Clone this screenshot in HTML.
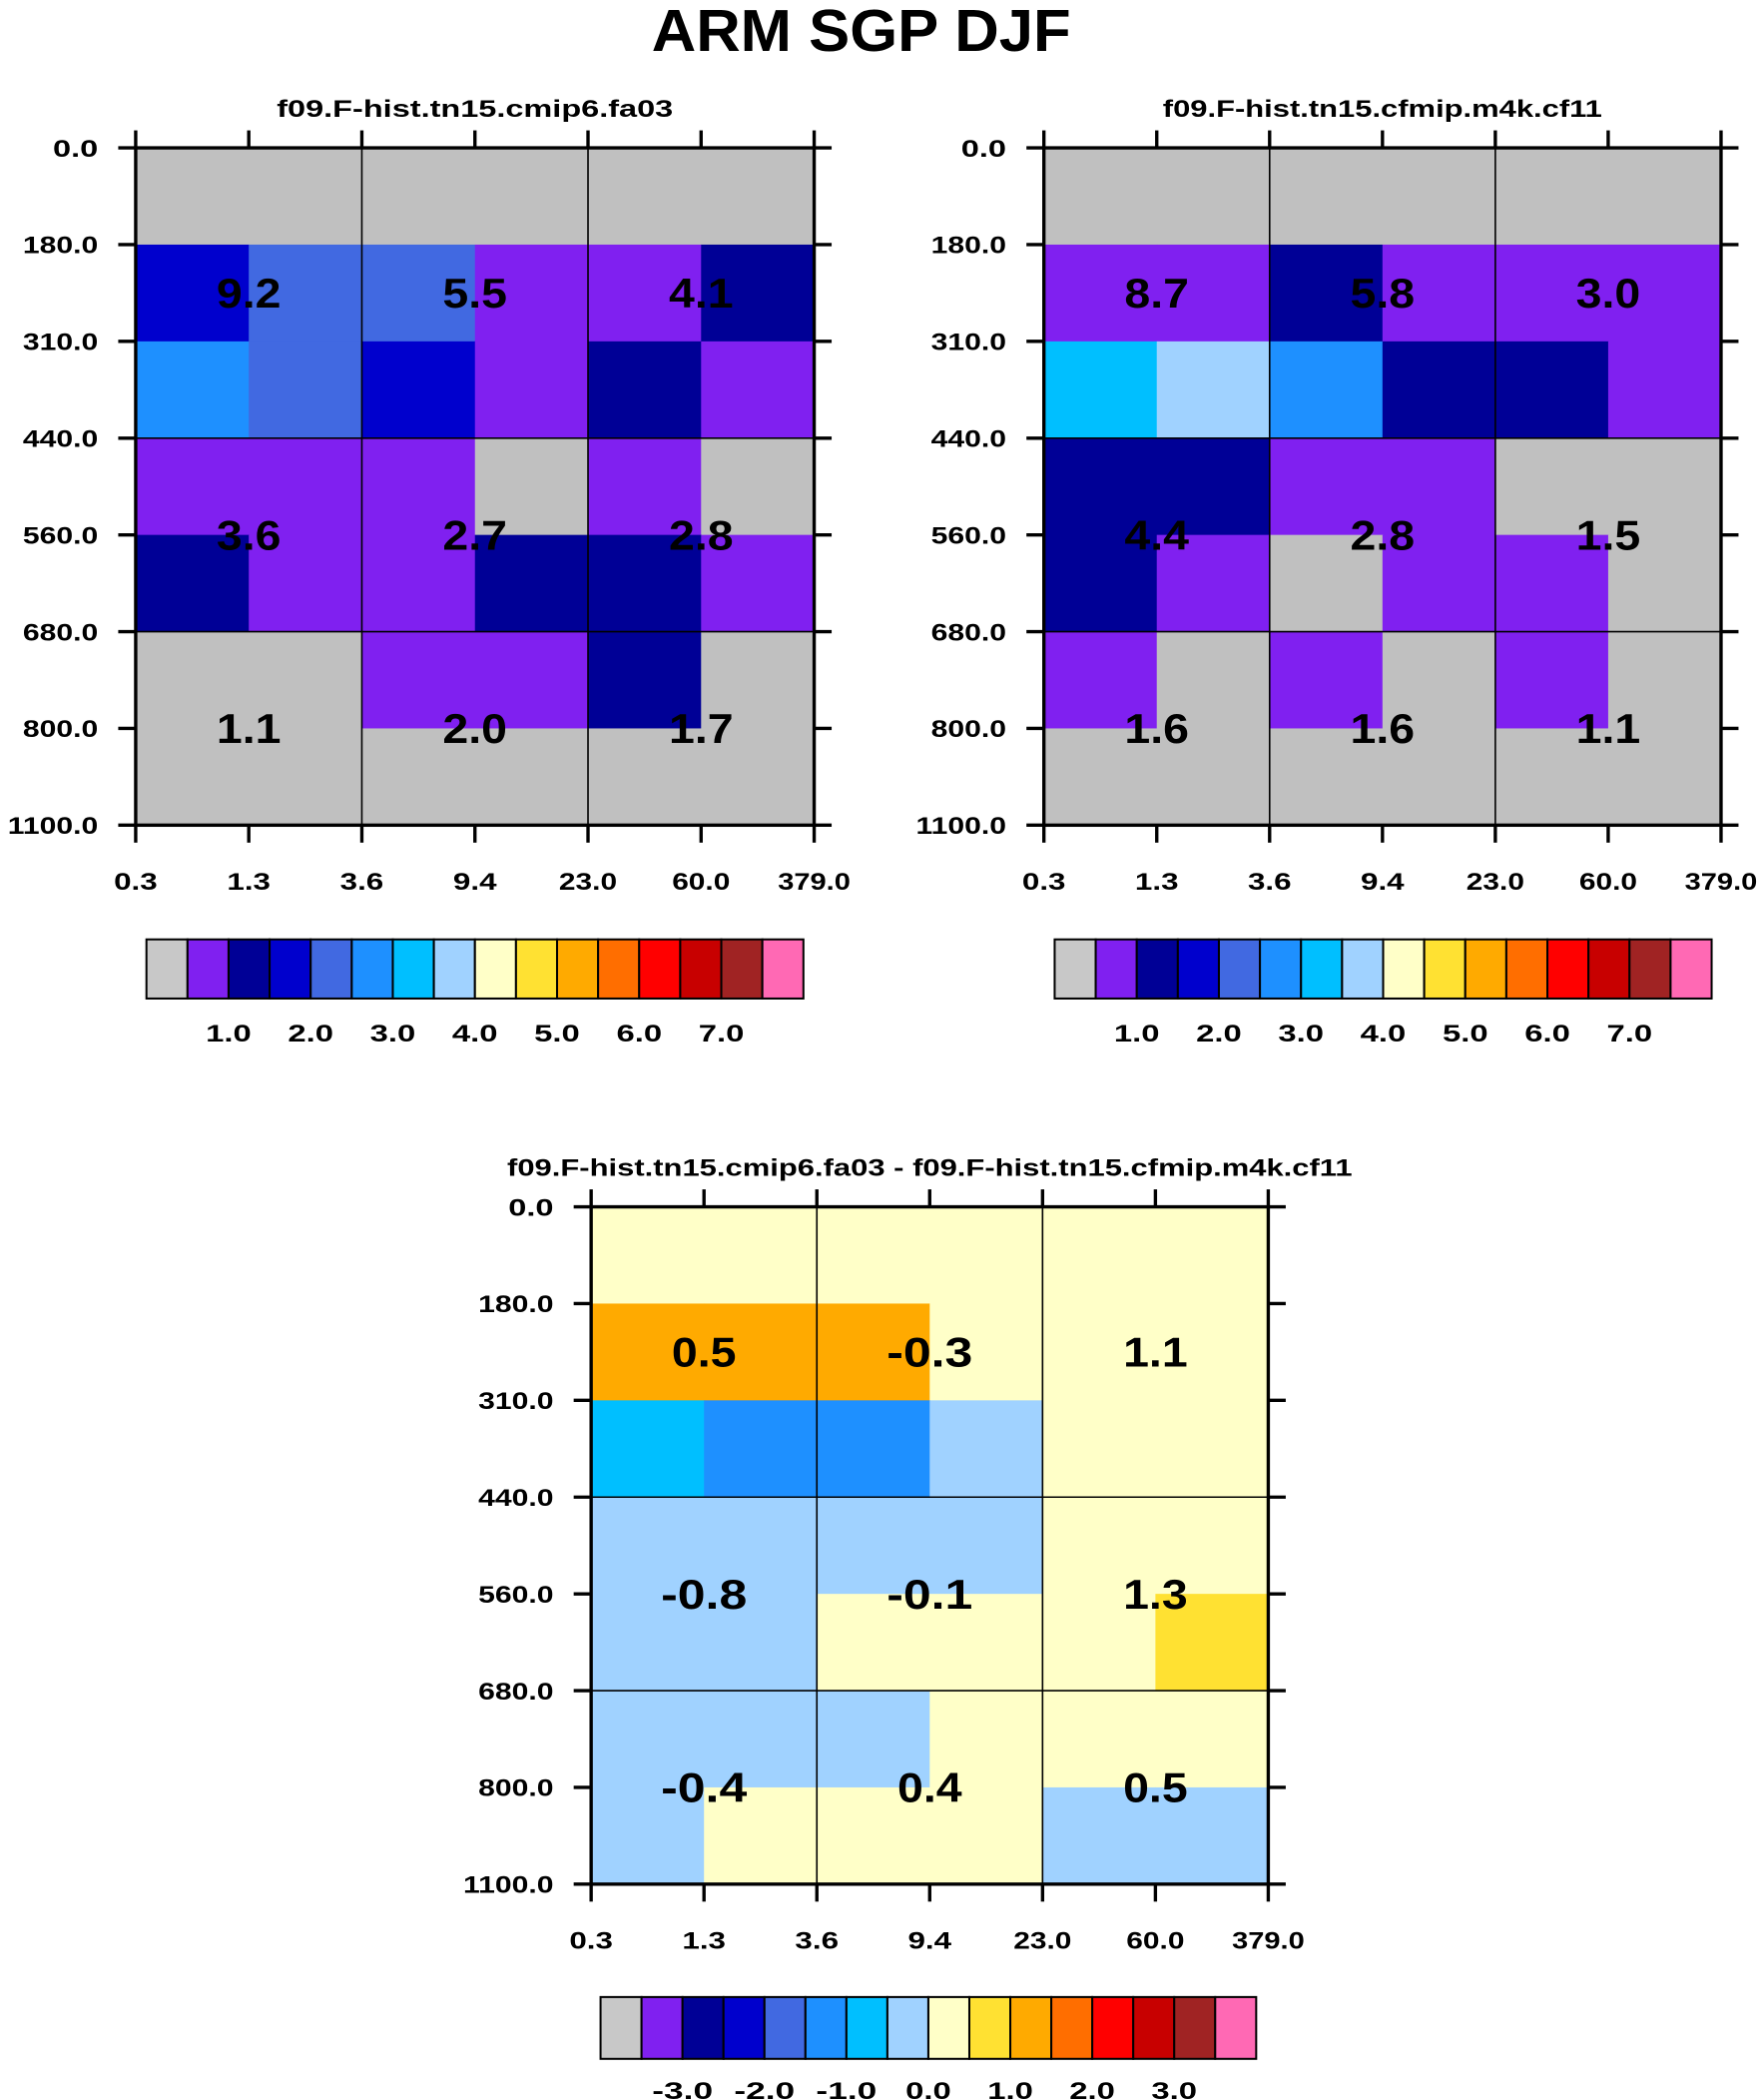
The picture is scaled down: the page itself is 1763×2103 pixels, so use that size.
<!DOCTYPE html>
<html><head><meta charset="utf-8"><style>
html,body{margin:0;padding:0;background:#fff;}
svg{display:block;font-family:"Liberation Sans",Arial,sans-serif;font-weight:bold;}
</style></head><body>
<svg id="fig" width="1763" height="2103" viewBox="0 0 1310 1562.6" xmlns="http://www.w3.org/2000/svg">
<rect width="1310" height="1562.6" fill="#fff"/>
<text x="641" y="38" font-size="44" text-anchor="middle" textLength="312" lengthAdjust="spacingAndGlyphs">ARM SGP DJF</text>
</svg>
<script>
const palette = ["#C0C0C0","#8020F0","#000096","#0000CD","#4169E1","#1E90FF","#00BFFF","#A0D2FF","#FFFFC8","#FFE132","#FFAA00","#FF6E00","#FF0000","#C80000","#A02323","#FF69B4"];
const xTickLabels = ["0.3","1.3","3.6","9.4","23.0","60.0","379.0"];
const yTickLabels = ["0.0","180.0","310.0","440.0","560.0","680.0","800.0","1100.0"];
const titles = ["f09.F-hist.tn15.cmip6.fa03","f09.F-hist.tn15.cfmip.m4k.cf11","f09.F-hist.tn15.cmip6.fa03 - f09.F-hist.tn15.cfmip.m4k.cf11"];
const grid1 = [[0,0,0,0,0,0],[3,4,4,1,1,2],[5,4,3,1,2,1],[1,1,1,0,1,0],[2,1,1,2,2,1],[0,0,1,1,2,0],[0,0,0,0,0,0]];
const grid2 = [[0,0,0,0,0,0],[1,1,2,1,1,1],[6,7,5,2,2,1],[2,2,1,1,0,0],[2,1,0,1,1,0],[1,0,1,0,1,0],[0,0,0,0,0,0]];
const grid3 = [[8,8,8,8,8,8],[10,10,10,8,8,8],[6,5,5,7,8,8],[7,7,7,7,8,8],[7,7,8,8,8,9],[7,7,7,8,8,8],[7,8,8,8,7,7]];
const values1 = [["9.2","5.5","4.1"],["3.6","2.7","2.8"],["1.1","2.0","1.7"]];
const values2 = [["8.7","5.8","3.0"],["4.4","2.8","1.5"],["1.6","1.6","1.1"]];
const values3 = [["0.5","-0.3","1.1"],["-0.8","-0.1","1.3"],["-0.4","0.4","0.5"]];
const cbLabels12 = ["1.0","2.0","3.0","4.0","5.0","6.0","7.0"];
const cbLabels3 = ["-3.0","-2.0","-1.0","0.0","1.0","2.0","3.0"];

const svg = document.getElementById('fig');
const NS = "http://www.w3.org/2000/svg";
function mk(tag, attrs, parent){const e=document.createElementNS(NS,tag);for(const k in attrs)e.setAttribute(k,attrs[k]);(parent||svg).appendChild(e);return e;}
function txt(parent, s, x, y, size, anchor, perChar){
  const t = mk('text',{x:x,y:y,"font-size":size,"text-anchor":anchor},parent);
  t.textContent = s;
  if(perChar){ t.setAttribute('textLength', (s.length*perChar).toFixed(1)); t.setAttribute('lengthAdjust','spacingAndGlyphs'); }
  return t;
}

function panel(name, L, T, W, H, grid, values, title, titleLen, cbX, cbY, cbW, cbH, cbLabels, cbLabY){
  const g = mk('g',{});
  
  
  const nc = grid[0].length, nr = grid.length;
  const cw = W/nc, rh = H/nr;
  const xs = i => L + i*cw, ys = j => T + j*rh;
  grid.forEach((row,j)=>row.forEach((c,i)=>{
    const r = mk('rect',{x:xs(i),y:ys(j),width:cw+0.5,height:rh+0.5,fill:palette[c]},g);
    
    
  }));
  for(let i=2;i<nc;i+=2) mk('line',{x1:xs(i),x2:xs(i),y1:T,y2:T+H,stroke:"#000","stroke-width":1.2},g);
  for(let j=3;j<nr;j+=2) mk('line',{x1:L,x2:L+W,y1:ys(j),y2:ys(j),stroke:"#000","stroke-width":1.2},g);
  mk('rect',{x:L,y:T,width:W,height:H,fill:"none",stroke:"#000","stroke-width":2.5},g);
  for(let i=0;i<=nc;i++){
    mk('line',{x1:xs(i),x2:xs(i),y1:T-13,y2:T,stroke:"#000","stroke-width":2.5},g);
    mk('line',{x1:xs(i),x2:xs(i),y1:T+H,y2:T+H+13,stroke:"#000","stroke-width":2.5},g);
    const t = txt(g, xTickLabels[i], xs(i), T+H+48, 18, 'middle', 10.8);
    
    
  }
  for(let j=0;j<=nr;j++){
    mk('line',{x1:L-13,x2:L,y1:ys(j),y2:ys(j),stroke:"#000","stroke-width":2.5},g);
    mk('line',{x1:L+W,x2:L+W+13,y1:ys(j),y2:ys(j),stroke:"#000","stroke-width":2.5},g);
    const t = txt(g, yTickLabels[j], L-28, ys(j)+6.5, 18, 'end', 11.2);
    
    
  }
  const rowY=[1.5,4,6];
  values.forEach((row,k)=>row.forEach((v,m)=>{
    const t = txt(g, v, xs(2*m+1), ys(rowY[k])+11, 31, 'middle', 16);
    
    
  }));
  const tt = mk('text',{x:L+W/2,y:T-23,"font-size":18,"text-anchor":"middle",textLength:titleLen,lengthAdjust:"spacingAndGlyphs"},g);
  tt.textContent = title;
  
  
  const cb = mk('g',{},g);
  
  
  const bw = cbW/palette.length;
  palette.forEach((c,i)=>{
    const r = mk('rect',{x:cbX+i*bw,y:cbY,width:bw,height:cbH,fill:(i===0?"#C8C8C8":c),stroke:"#000","stroke-width":1.5},cb);
    
    
  });
  cbLabels.forEach((s,k)=>{
    const t = txt(cb, s, cbX+(2*k+2)*bw, cbLabY, 18, 'middle', 11.3);
    
    
  });
}
panel('panel-cmip6', 101,110,505,504, grid1, values1, titles[0], 295, 109,699,489,44, cbLabels12, 775);
panel('panel-cfmip', 777,110,504,504, grid2, values2, titles[1], 327, 785,699,489,44, cbLabels12, 775);
panel('panel-diff', 440,898,504,504, grid3, values3, titles[2], 629, 447,1486,488,46, cbLabels3, 1562);
</script>
</body></html>
